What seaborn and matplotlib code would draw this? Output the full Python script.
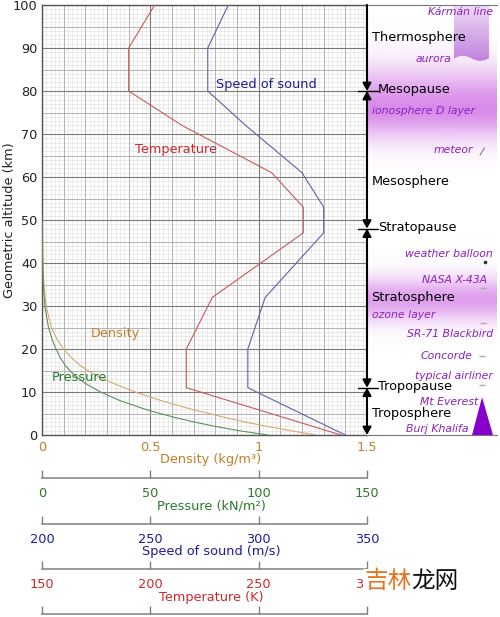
import numpy as np
import matplotlib
matplotlib.use("Agg")
import matplotlib.pyplot as plt
import matplotlib.transforms as mtransforms
from matplotlib.patches import Polygon
from matplotlib.colors import to_rgb
import seaborn as sns

sns.set_theme(style="white")
plt.rcParams['font.family'] = ['DejaVu Sans', 'Noto Sans CJK SC']

# ---- values ----
profile_alt = [0, 11, 20, 32, 47, 53, 61, 72, 80, 90, 100]
temperature_k = [288, 216.6, 216.6, 228.6, 270.6, 270.6, 256, 214.6, 190, 190, 202]
sound_speed = [340, 295, 295, 303, 330, 330, 320, 294, 276.5, 276.5, 286]

low_alt = [0, 1, 2, 3, 4, 5, 6, 8, 10, 12, 14, 16, 18, 20, 22, 25, 30, 35, 40, 50]
density = [1.26, 1.15, 1.04, 0.94, 0.85, 0.77, 0.69, 0.55, 0.43, 0.33, 0.245,
           0.18, 0.135, 0.10, 0.072, 0.043, 0.019, 0.009, 0.004, 0.001]
pressure = [104, 91, 80, 70.5, 62, 54.5, 47.5, 36, 27, 20, 14.8,
            11, 8.4, 6.5, 4.8, 3.0, 1.3, 0.6, 0.29, 0.08]

density_ticks = [0, 0.5, 1, 1.5]
pressure_ticks = [0, 50, 100, 150]
speed_ticks = [200, 250, 300, 350]
temp_ticks = [150, 200, 250, 300]

layer_bounds = [0, 11, 48, 80, 100]
layer_names = ['Troposphere', 'Stratosphere', 'Mesosphere', 'Thermosphere']
layer_label_alt = [5, 32, 59, 92.5]
pause_names = ['Tropopause', 'Stratopause', 'Mesopause']
pause_alt = [11, 48, 80]

feature_names = ['Kármán line', 'aurora', 'ionosphere D layer', 'meteor',
                 'weather balloon', 'NASA X-43A', 'ozone layer', 'SR-71 Blackbird',
                 'Concorde', 'typical airliner', 'Mt Everest', 'Burj Khalifa']
feature_alt = [98.4, 87.4, 75.3, 66.3, 42, 36, 28, 23.5, 18.4, 13.7, 7.7, 1.4]
feature_x = [0.969, 0.646, 0.038, 0.815, 0.969, 0.923, 0.038, 0.969, 0.808, 0.969, 0.854, 0.777]
feature_ha = ['right', 'right', 'left', 'right', 'right', 'right', 'left', 'right',
              'right', 'right', 'right', 'right']

craft_alt = [34.2, 26, 18.4, 11.6]
craft_x = [0.892, 0.892, 0.885, 0.885]
balloon_alt = 40.2
everest_km = 8.8

# ---- colours ----
TEMP_C, TEMP_L = '#cc2a2a', '#c85a5a'
SPEED_C, SPEED_L = '#1c1c99', '#6060aa'
DENS_C, DENS_L = '#c47e2c', '#d8aa70'
PRES_C, PRES_L = '#2a7a2a', '#5f8f5f'
PURPLE = '#8a1fc2'
FS = 9.3

W, H = 500, 617
fig = plt.figure(figsize=(W / 100, H / 100), dpi=100)


def fx(px):
    return px / W


def fy(py):
    return 1 - py / H


# ---- main chart ----
ax = fig.add_axes([fx(42), fy(435), fx(367) - fx(42), fy(5) - fy(435)])

for v in np.arange(0, 1.5001, 0.02):
    ax.axvline(v, color='#e0e0e0', lw=0.45, zorder=0.3)
for h in np.arange(0, 100.1, 1):
    ax.axhline(h, color='#e0e0e0', lw=0.45, zorder=0.3)

ax.set_xticks(density_ticks)
ax.set_xticks(np.arange(0, 1.501, 0.1), minor=True)
ax.set_yticks(np.arange(0, 101, 10))
ax.set_yticks(np.arange(0, 101, 5), minor=True)
ax.set_xticklabels([f'{t:g}' for t in density_ticks])
ax.set_axisbelow(True)
ax.grid(which='major', color='#7a7a7a', lw=0.8)
ax.grid(which='minor', color='#ababab', lw=0.6)
ax.tick_params(which='both', length=0)
ax.tick_params(axis='x', labelcolor=DENS_C, labelsize=FS, pad=4.6)
ax.tick_params(axis='y', labelcolor='#222222', labelsize=FS, pad=3.4)
for s in ['left', 'top', 'bottom']:
    ax.spines[s].set_color('#555555')
    ax.spines[s].set_linewidth(1)
ax.spines['right'].set_visible(False)

sns.lineplot(x=density, y=low_alt, ax=ax, color=DENS_L, lw=0.8, orient='y',
             sort=False, estimator=None, legend=False)
ax.set_xlabel('Density (kg/m³)', color=DENS_C, fontsize=FS)
ax.xaxis.label.set_va('center')
ax.xaxis.set_label_coords(fx(211), fy(460), transform=fig.transFigure)
ax.set_ylabel('Geometric altitude (km)', color='#222222', fontsize=FS)
ax.yaxis.label.set_va('center')
ax.yaxis.set_label_coords(fx(10), fy(220), transform=fig.transFigure)


def lower_axis(lo, hi, ticks, spine_py, color, label):
    t = ax.twiny()
    t.set_xlim(lo, hi)
    t.xaxis.set_ticks_position('bottom')
    t.xaxis.set_label_position('bottom')
    t.spines['bottom'].set_position(('outward', (spine_py - 435) * 0.72))
    for s in ['top', 'left', 'right']:
        t.spines[s].set_visible(False)
    t.spines['bottom'].set_color('#808080')
    t.spines['bottom'].set_linewidth(1.1)
    t.set_xticks(ticks)
    t.tick_params(axis='x', direction='in', length=8 * 0.72, width=1,
                  color='#808080', labelcolor=color, labelsize=FS, pad=6.6)
    if label:
        t.set_xlabel(label, color=color, fontsize=FS)
        t.xaxis.label.set_va('center')
        t.xaxis.set_label_coords(fx(211), fy(spine_py + 28), transform=fig.transFigure)
    else:
        t.set_xticklabels([])
    t.grid(False)
    return t


ax_p = lower_axis(0, 150, pressure_ticks, 478, PRES_C, 'Pressure (kN/m²)')
ax_s = lower_axis(200, 350, speed_ticks, 524, SPEED_C, 'Speed of sound (m/s)')
ax_t = lower_axis(150, 300, temp_ticks, 569, TEMP_C, 'Temperature (K)')
ax_e = lower_axis(150, 300, temp_ticks, 614, TEMP_C, None)

sns.lineplot(x=pressure, y=low_alt, ax=ax_p, color=PRES_L, lw=0.8, orient='y',
             sort=False, estimator=None, legend=False)
sns.lineplot(x=sound_speed, y=profile_alt, ax=ax_s, color=SPEED_L, lw=0.8, orient='y',
             sort=False, estimator=None, legend=False)
sns.lineplot(x=temperature_k, y=profile_alt, ax=ax_t, color=TEMP_L, lw=0.8, orient='y',
             sort=False, estimator=None, legend=False)
for t in (ax_p, ax_s, ax_t, ax_e):
    t.set_ylim(0, 100)
    t.set_ylabel('')
ax_p.set_xlim(0, 150)
ax_s.set_xlim(200, 350)
ax_t.set_xlim(150, 300)

ax.text(0.618, 66.3, 'Temperature', color=TEMP_C, fontsize=FS, ha='center', va='center')
ax.text(1.034, 81.4, 'Speed of sound', color=SPEED_C, fontsize=FS, ha='center', va='center')
ax.text(0.337, 23.5, 'Density', color=DENS_C, fontsize=FS, ha='center', va='center')
ax.text(0.175, 13.3, 'Pressure', color=PRES_C, fontsize=FS, ha='center', va='center')
ax.set_xlim(0, 1.5)
ax.set_ylim(0, 100)

# ---- right panel: layers of the atmosphere ----
axr = fig.add_axes([fx(367), fy(435), fx(497) - fx(367), fy(5) - fy(435)])
axr.set_facecolor('white')

alts = np.linspace(0, 100, 801)
iono = np.where(alts > 76, np.exp(-((alts - 76) / 9) ** 2), np.exp(-((alts - 76) / 7) ** 2))
ozone = np.exp(-((alts - 31.5) / 5) ** 2)
shade = np.zeros((len(alts), 1, 4))
shade[..., :3] = to_rgb('#c85ae0')
shade[..., 3] = np.maximum(0.7 * iono, 0.58 * ozone)[:, None]
axr.imshow(shade, extent=[0, 1, 0, 100], origin='lower', aspect='auto',
           interpolation='bilinear', zorder=0)

# Karman line ribbon
wave_x = np.linspace(0.938, 0.669, 12)
wave_y = 87.6 + 0.6 * np.sin((wave_x - 0.669) / 0.269 * 2 * np.pi)
verts = [(0.669, 100), (0.938, 100)] + list(zip(wave_x, wave_y))
ribbon = Polygon(verts, closed=True, facecolor='none', edgecolor='none')
axr.add_patch(ribbon)
top_c, bot_c = np.array(to_rgb('#eedcf5')), np.array(to_rgb('#c07fdd'))
frac = np.linspace(0, 1, 100)[:, None, None]
grad = top_c * (1 - frac) + bot_c * frac
rib_im = axr.imshow(grad, extent=[0.669, 0.938, 86.8, 100], origin='upper',
                    aspect='auto', zorder=1)
rib_im.set_clip_path(ribbon)

# Everest
axr.add_patch(Polygon([(0.808, 0), (0.885, everest_km), (0.969, 0)], closed=True,
                      facecolor='#8800cc', edgecolor='none', zorder=2))

# layer arrows on the boundary line
arrow_kw = dict(color='black', lw=1.5, shrinkA=0, shrinkB=0, mutation_scale=10)
for lo, hi in zip(layer_bounds[:-2], layer_bounds[1:-1]):
    axr.annotate('', xy=(0, lo), xytext=(0, hi), annotation_clip=False,
                 arrowprops=dict(arrowstyle='<|-|>,head_length=0.45,head_width=0.25', **arrow_kw))
axr.annotate('', xy=(0, layer_bounds[-2]), xytext=(0, layer_bounds[-1]), annotation_clip=False,
             arrowprops=dict(arrowstyle='-|>,head_length=0.45,head_width=0.25', **arrow_kw))

tr = mtransforms.blended_transform_factory(axr.transAxes, axr.transData)
for b in pause_alt:
    axr.plot([-0.07, 0.085], [b, b], transform=tr, color='black', lw=1, clip_on=False)

for name, a in zip(layer_names, layer_label_alt):
    axr.text(0.035, a, name, fontsize=FS, color='black', ha='left', va='center')
for name, a in zip(pause_names, pause_alt):
    axr.text(0.085, a + 0.3, name, fontsize=FS, color='black', ha='left', va='center')

for name, a, x, ha in zip(feature_names, feature_alt, feature_x, feature_ha):
    axr.text(x, a, name, fontsize=7.8, style='italic', color=PURPLE, ha=ha, va='center')

axr.plot(craft_x, craft_alt, ls='none', marker='_', ms=5, mew=1, color='#aaaaaa')
axr.plot([0.908], [balloon_alt], ls='none', marker='o', ms=1.6, color='#333333')
axr.plot([0.869, 0.905], [65.1, 66.8], color='#9a6ab0', lw=0.8)

axr.set_xlim(0, 1)
axr.set_ylim(0, 100)
axr.set_xticks([])
axr.set_yticks([])
for s in ['left', 'right']:
    axr.spines[s].set_visible(False)
for s in ['top', 'bottom']:
    axr.spines[s].set_color('#777777')
    axr.spines[s].set_linewidth(0.8)

# site watermark
fig.text(fx(364), fy(582), '吉林', fontsize=17, color='#e8731f', ha='left', va='center',
         family=['Noto Sans CJK SC', 'DejaVu Sans'],
         bbox=dict(facecolor='white', edgecolor='none', pad=1))
fig.text(fx(411), fy(582), '龙网', fontsize=17, color='#111111', ha='left', va='center',
         family=['Noto Sans CJK SC', 'DejaVu Sans'],
         bbox=dict(facecolor='white', edgecolor='none', pad=1))

fig.savefig('out.png', dpi=100)
